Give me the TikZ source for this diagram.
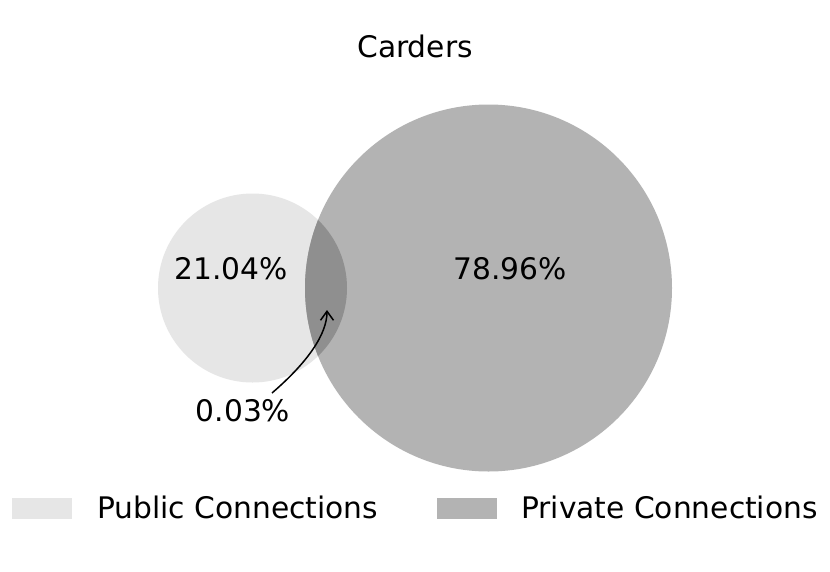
\documentclass[tikz,border=0pt]{standalone}
\usepackage{fontspec}
\setmainfont{DejaVu Sans}
\usetikzlibrary{arrows.meta}
\definecolor{pubgray}{HTML}{E6E6E6}
\definecolor{privgray}{HTML}{B3B3B3}
\definecolor{bothgray}{HTML}{8F8F8F}
\begin{document}
\begin{tikzpicture}[x=1pt,y=-1pt,
  lbl/.style={font=\fontsize{29.7}{32}\selectfont, inner sep=0pt, anchor=base},
  legtext/.style={font=\fontsize{29.7}{32}\selectfont, inner sep=0pt, anchor=base west},
  legbox/.style={draw=none, inner sep=0pt, minimum width=60pt, minimum height=21pt, anchor=north west}]
\useasboundingbox (0,0) rectangle (830,571);
\fill[white] (0,0) rectangle (830,571);
% circles
\fill[pubgray] (252.5,288) circle[radius=94.5];
\fill[privgray] (488.5,288) circle[radius=183.5];
\begin{scope}
  \clip (252.5,288) circle[radius=94.5];
  \fill[bothgray] (488.5,288) circle[radius=183.5];
\end{scope}
% labels
\node[lbl] (title) at (415,57.5) {Carders};
\node[lbl] (pub) at (231,279) {21.04\%};
\node[lbl] (priv) at (510,279) {78.96\%};
\node[lbl] (both) at (243,421) {0.03\%};
\coordinate (tip) at (327,310);
\coordinate (tail) at (272,393);
\draw[line width=1.5pt, -{Straight Barb[length=9pt,width=13pt]}] (tail) .. controls (308,362) and (327,334) .. (tip);
% legend
\node[legbox, fill=pubgray] (pubbox) at (12,498) {};
\node[legtext] (pubtext) at (97,518.5) {Public Connections};
\node[legbox, fill=privgray] (privbox) at (437,498) {};
\node[legtext] (privtext) at (521,518.5) {Private Connections};
\end{tikzpicture}
\end{document}
